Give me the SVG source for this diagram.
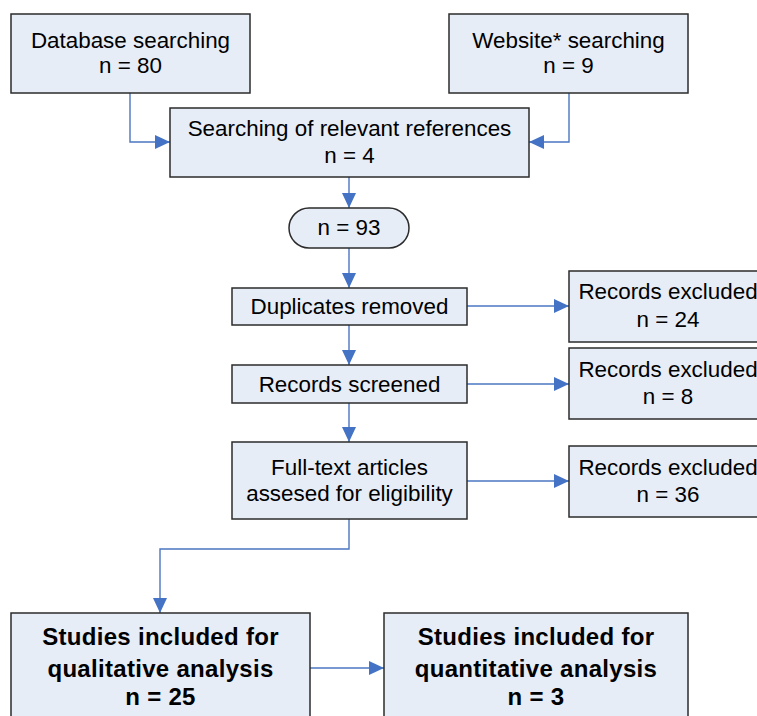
<svg xmlns="http://www.w3.org/2000/svg" width="757" height="716" viewBox="0 0 757 716">
  <style>
    .box { fill: #e7edf7; stroke: #2b2b2b; stroke-width: 1.5; }
    .txt { font-family: "Liberation Sans", Arial, sans-serif; font-size: 22.4px; fill: #000; text-anchor: middle; }
    .bold { font-family: "Liberation Sans", Arial, sans-serif; font-size: 24px; font-weight: bold; letter-spacing: 0.3px; fill: #000; text-anchor: middle; }
    .link { fill: none; stroke: #4a76c0; stroke-width: 1.4; marker-end: url(#arrow); }
  </style>
  <defs>
    <marker id="arrow" markerUnits="userSpaceOnUse" markerWidth="15" markerHeight="14" refX="15" refY="7" orient="auto">
      <path d="M0,0 L15,7 L0,14 z" fill="#4472c4"/>
    </marker>
  </defs>
  <rect width="757" height="716" fill="#ffffff"/>

  <!-- connectors -->
  <g id="connectors">
    <path class="link" d="M130,93 V142 H170"/>
    <path class="link" d="M569,93 V142 H529"/>
    <path class="link" d="M349,177 V208"/>
    <path class="link" d="M349,248 V288"/>
    <path class="link" d="M349,325 V365"/>
    <path class="link" d="M349,403 V442"/>
    <path class="link" d="M467,306 H569"/>
    <path class="link" d="M467,384 H569"/>
    <path class="link" d="M467,481 H569"/>
    <path class="link" d="M349,519 V549 H160 V613"/>
    <path class="link" d="M310,668 H384"/>
  </g>

  <g id="database">
    <rect class="box" x="11" y="14" width="239" height="79"/>
    <text class="txt" x="130.5" y="48">Database searching</text>
    <text class="txt" x="130.5" y="73">n = 80</text>
  </g>

  <g id="website">
    <rect class="box" x="449" y="14" width="239" height="79"/>
    <text class="txt" x="568.5" y="48">Website* searching</text>
    <text class="txt" x="568.5" y="73">n = 9</text>
  </g>

  <g id="references">
    <rect class="box" x="170" y="108" width="359" height="69"/>
    <text class="txt" x="349.5" y="136">Searching of relevant references</text>
    <text class="txt" x="349.5" y="163">n = 4</text>
  </g>

  <g id="total">
    <rect class="box" x="289" y="208" width="120" height="40" rx="20" ry="20"/>
    <text class="txt" x="349" y="235">n = 93</text>
  </g>

  <g id="duplicates">
    <rect class="box" x="232" y="288" width="235" height="37"/>
    <text class="txt" x="349.5" y="314">Duplicates removed</text>
  </g>

  <g id="screened">
    <rect class="box" x="232" y="365" width="235" height="38"/>
    <text class="txt" x="349.5" y="392">Records screened</text>
  </g>

  <g id="fulltext">
    <rect class="box" x="232" y="442" width="235" height="77"/>
    <text class="txt" x="349.5" y="475">Full-text articles</text>
    <text class="txt" x="349.5" y="501">assesed for eligibility</text>
  </g>

  <g id="excluded1">
    <rect class="box" x="569" y="271" width="200" height="71"/>
    <text class="txt" x="668" y="299">Records excluded</text>
    <text class="txt" x="668" y="327">n = 24</text>
  </g>

  <g id="excluded2">
    <rect class="box" x="569" y="348" width="200" height="71"/>
    <text class="txt" x="668" y="377">Records excluded</text>
    <text class="txt" x="668" y="404">n = 8</text>
  </g>

  <g id="excluded3">
    <rect class="box" x="569" y="446" width="200" height="71"/>
    <text class="txt" x="668" y="475">Records excluded</text>
    <text class="txt" x="668" y="502">n = 36</text>
  </g>

  <g id="qualitative">
    <rect class="box" x="11" y="613" width="299" height="120"/>
    <text class="bold" x="160.5" y="645">Studies included for</text>
    <text class="bold" x="160.5" y="677">qualitative analysis</text>
    <text class="bold" x="160.5" y="705">n = 25</text>
  </g>

  <g id="quantitative">
    <rect class="box" x="384" y="613" width="304" height="120"/>
    <text class="bold" x="536" y="645">Studies included for</text>
    <text class="bold" x="536" y="677">quantitative analysis</text>
    <text class="bold" x="536" y="705">n = 3</text>
  </g>
</svg>
